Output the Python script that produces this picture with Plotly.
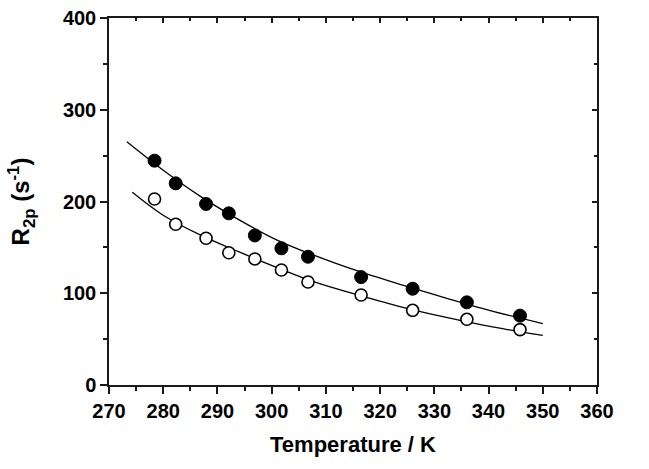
import plotly.graph_objects as go

temp_pts = [278.4, 282.3, 287.9, 292.1, 296.9, 301.8, 306.7, 316.5, 326.0, 336.0, 345.8]
r2p_filled = [244.5, 219.8, 197.3, 187.1, 163.0, 149.0, 139.8, 117.6, 104.9, 90.1, 75.6]
r2p_open = [202.7, 175.2, 159.9, 144.2, 137.4, 125.3, 112.3, 98.1, 81.4, 71.6, 60.4]

# Fitted curves
fit_t_upper = [273.3, 280, 287, 294, 301, 308, 316, 324, 332, 341, 350]
fit_r_upper = [265, 234, 205, 180, 158, 141, 124, 109, 95, 80, 67]
fit_t_lower = [274.3, 280, 287, 294, 301, 308, 316, 324, 332, 341, 350]
fit_r_lower = [210, 185, 163, 145, 128, 112, 98, 85, 74, 63, 54]

x_range = [270, 360]
y_range = [0, 400]

FONT = "Liberation Sans, Arial, sans-serif"
INK = "#1a1a1a"

fig = go.Figure()
fig.add_trace(go.Scatter(x=fit_t_upper, y=fit_r_upper, mode="lines",
                         line=dict(color="black", width=1.3, shape="spline"),
                         showlegend=False, hoverinfo="skip"))
fig.add_trace(go.Scatter(x=fit_t_lower, y=fit_r_lower, mode="lines",
                         line=dict(color="black", width=1.3, shape="spline"),
                         showlegend=False, hoverinfo="skip"))
fig.add_trace(go.Scatter(x=temp_pts, y=r2p_filled, mode="markers",
                         marker=dict(symbol="circle", size=13, color="black",
                                     line=dict(color="black", width=1)),
                         showlegend=False))
fig.add_trace(go.Scatter(x=temp_pts, y=r2p_open, mode="markers",
                         marker=dict(symbol="circle", size=12, color="white",
                                     line=dict(color="black", width=1.6)),
                         showlegend=False))
# invisible trace to anchor mirror axes
fig.add_trace(go.Scatter(x=x_range, y=y_range, xaxis="x2", yaxis="y2",
                         mode="markers", marker=dict(opacity=0),
                         showlegend=False, hoverinfo="skip"))

tickfont = dict(family=FONT, size=20, color="black", weight="bold")

fig.update_layout(
    width=649, height=469,
    margin=dict(l=109, r=52, t=18, b=84),
    paper_bgcolor="white", plot_bgcolor="white",
    xaxis=dict(range=x_range, dtick=10, tick0=270, ticks="outside", ticklen=7,
               tickwidth=1.5, tickcolor=INK, showline=True, linecolor=INK,
               linewidth=1.5, showgrid=False, zeroline=False, tickfont=tickfont,
               automargin=False,
               minor=dict(dtick=5, ticks="outside", ticklen=4, tickwidth=1.5,
                          tickcolor=INK, showgrid=False),
               title=dict(text="Temperature / K", standoff=16,
                          font=dict(family=FONT, size=22, color="black", weight="bold"))),
    yaxis=dict(range=y_range, dtick=100, ticks="outside", ticklen=7,
               tickwidth=1.5, tickcolor=INK, showline=True, linecolor=INK,
               linewidth=1.5, showgrid=False, zeroline=False, tickfont=tickfont,
               automargin=False,
               minor=dict(dtick=50, ticks="outside", ticklen=4, tickwidth=1.5,
                          tickcolor=INK, showgrid=False),
               title=dict(text="R<sub>2p</sub> (s<sup>-1</sup>)", standoff=26,
                          font=dict(family=FONT, size=24, color="black", weight="bold"))),
    xaxis2=dict(range=x_range, overlaying="x", side="top", anchor="y2", dtick=10, tick0=270,
                ticks="inside", ticklen=5, tickwidth=1.5, tickcolor=INK,
                showline=True, linecolor=INK, linewidth=1.5, showgrid=False,
                zeroline=False, showticklabels=False, automargin=False,
                minor=dict(dtick=5, ticks="inside", ticklen=3, tickwidth=1.5,
                           tickcolor=INK, showgrid=False)),
    yaxis2=dict(range=y_range, overlaying="y", side="right", anchor="x2", dtick=100,
                ticks="inside", ticklen=5, tickwidth=1.5, tickcolor=INK,
                showline=True, linecolor=INK, linewidth=1.5, showgrid=False,
                zeroline=False, showticklabels=False, automargin=False,
                minor=dict(dtick=50, ticks="inside", ticklen=3, tickwidth=1.5,
                           tickcolor=INK, showgrid=False)),
)

fig.write_html("out.html", config={"displayModeBar": False},
               post_script="document.body.style.margin='0';")
